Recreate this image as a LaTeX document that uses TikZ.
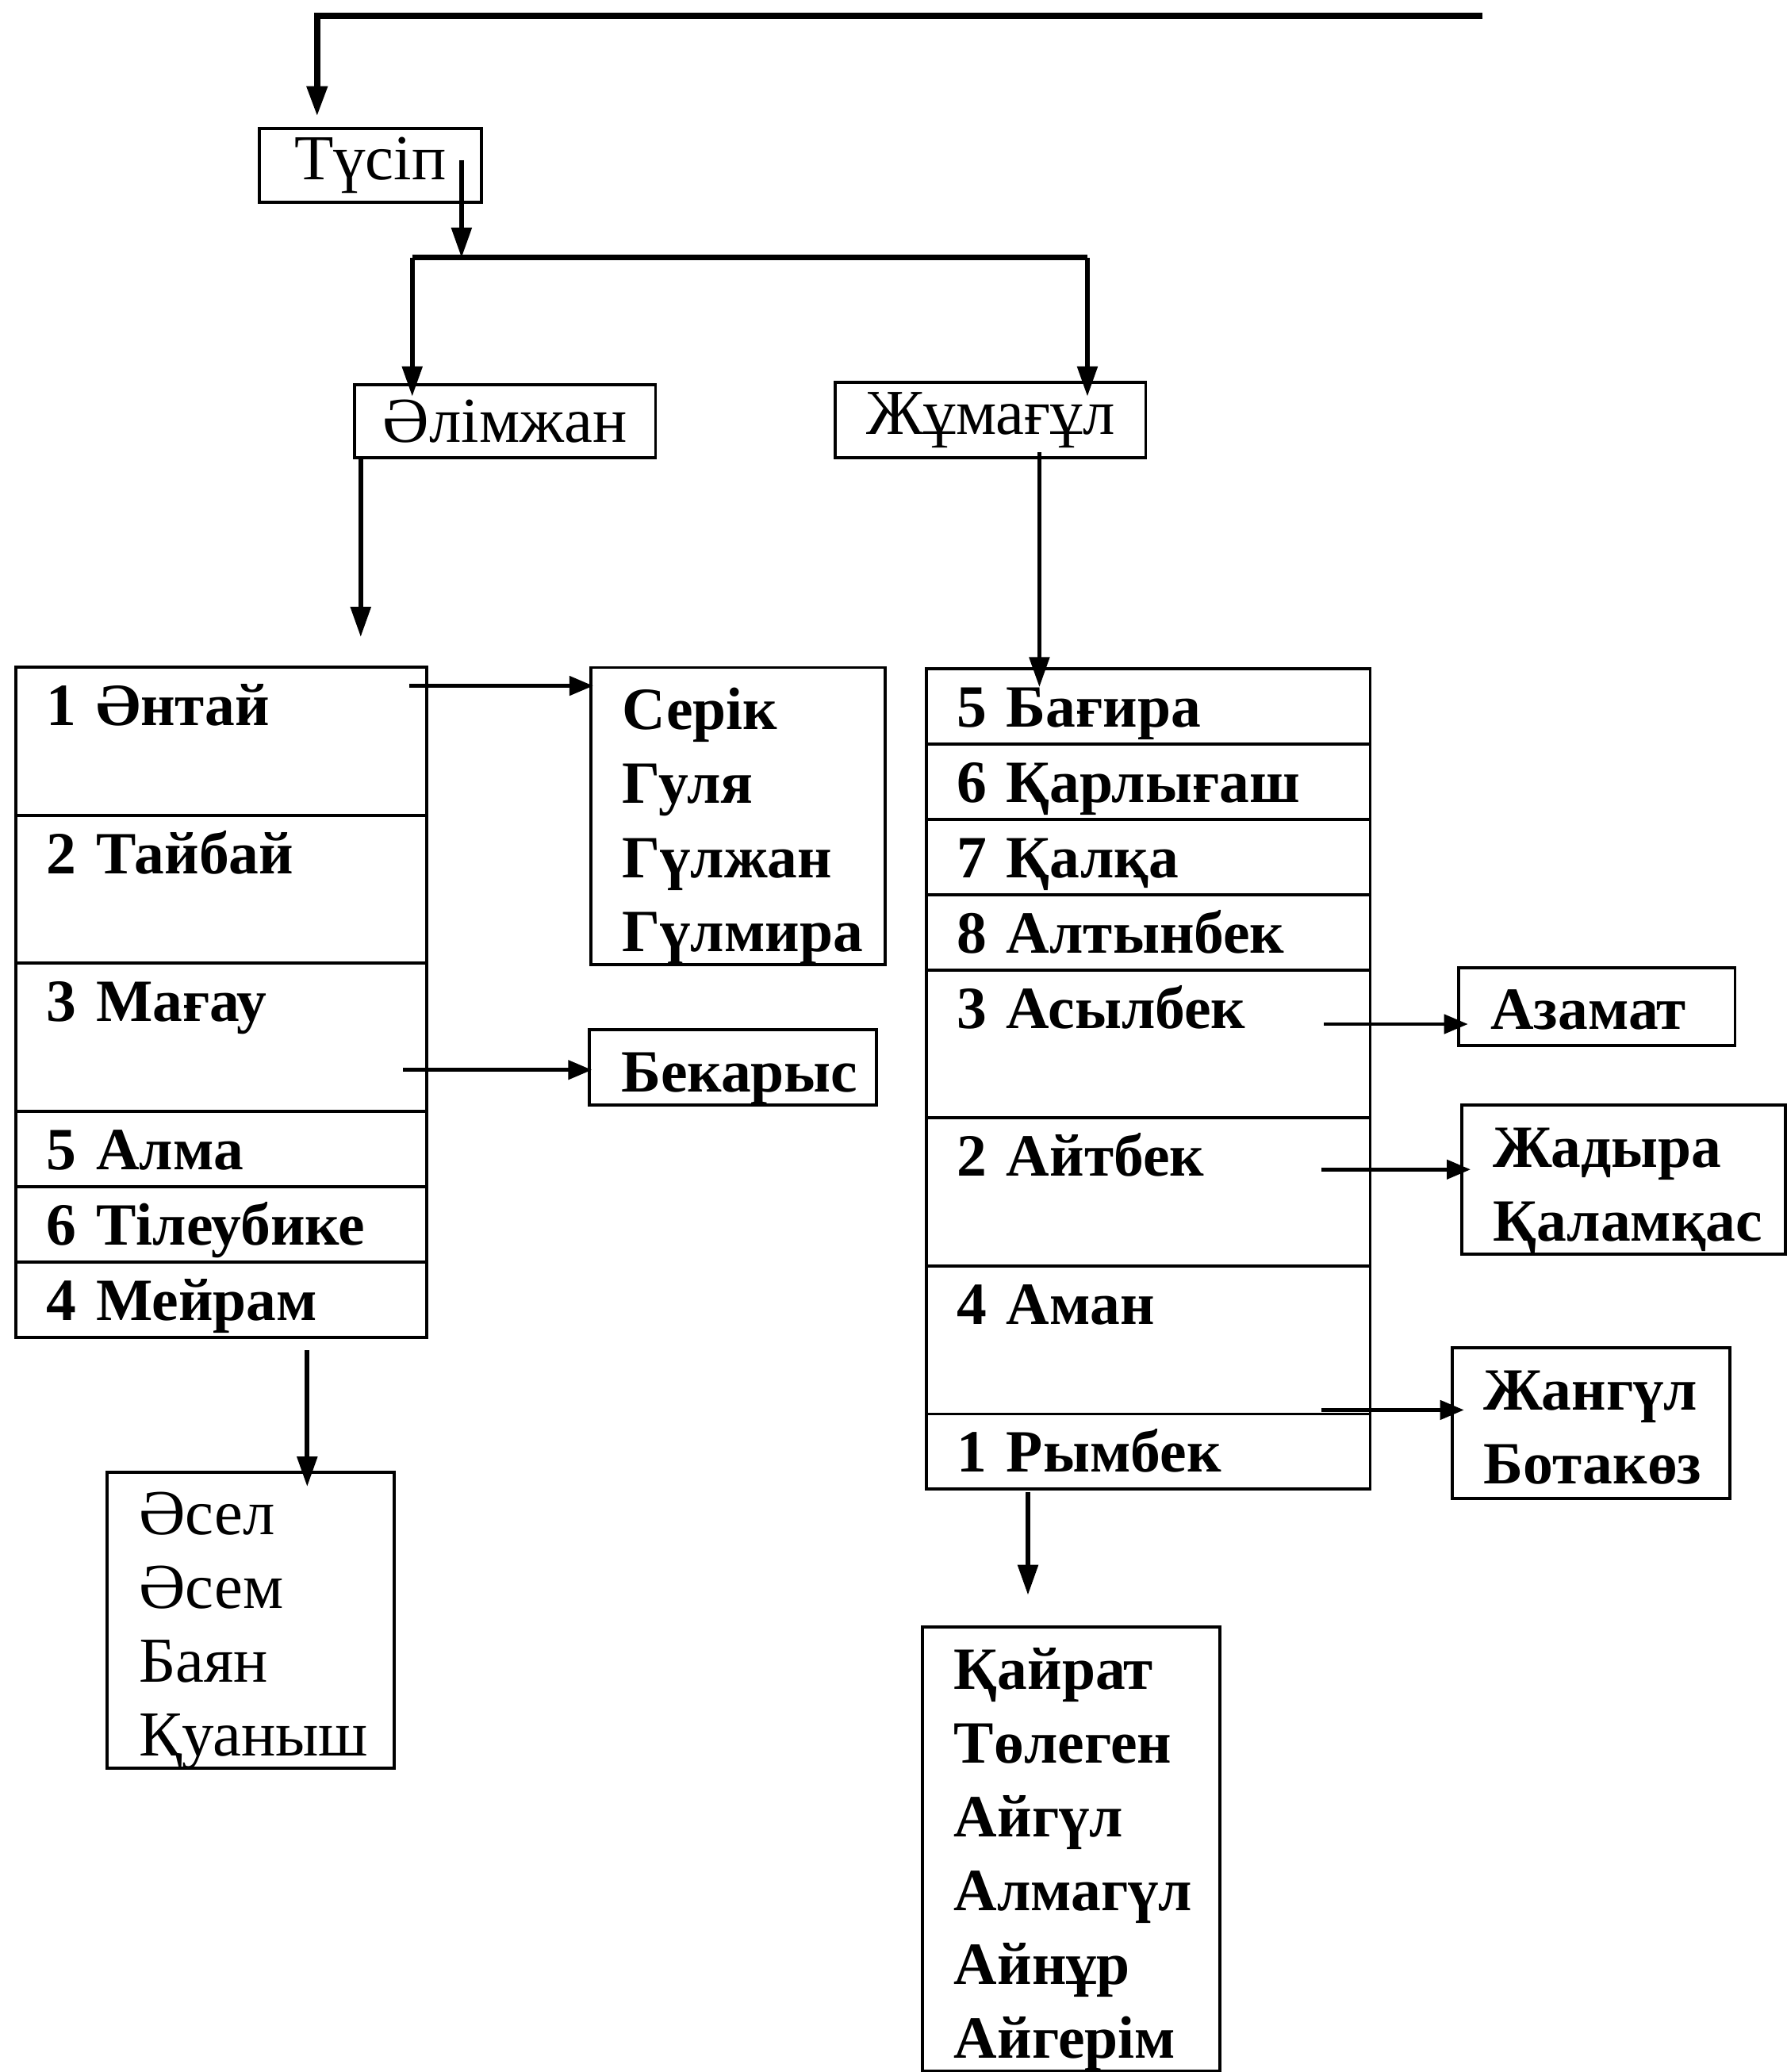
\documentclass[tikz,border=0pt]{standalone}
\usepackage{fontspec}
\setmainfont{Liberation Serif}
\usetikzlibrary{arrows.meta,positioning,calc}
\newlength\px
\setlength\px{0.016664cm}
\newcommand\rowfont{\fontsize{21.5pt}{26.5pt}\selectfont\bfseries}
\newcommand\namefont{\fontsize{23pt}{26.5pt}\selectfont}
\tikzset{
  boxline/.style={line width=1.1pt},
  namebox/.style={draw, boxline, anchor=north west, inner sep=0pt, font=\namefont},
  famrow/.style={draw, boxline, outer sep=0pt, inner xsep=23\px, inner ysep=0pt,
    text height=44\px, align=left, font=\rowfont},
  leftrow/.style={famrow, text width=265\px},
  rightrow/.style={famrow, text width=290\px},
  lowrow/.style={text depth=13\px},
  highrow/.style={text depth=68\px},
  listbox/.style={draw, boxline, anchor=north west, inner xsep=24\px, inner ysep=0pt,
    text height=47\px, align=left, font=\rowfont},
  conn/.style={line width=1.6pt},
  arr/.style={conn, -{Triangle[length=0.38cm,width=0.25cm]}},
  harr/.style={line width=1.3pt, -{Triangle[length=0.3cm,width=0.24cm]}}
}
\begin{document}
\begin{tikzpicture}[x=0.016664cm, y=-0.016664cm]
  \useasboundingbox (0,0) rectangle (1352,1568);

  % top of the tree
  \node[namebox, minimum width=168\px, minimum height=56\px] (tusip) at (195,96) {Түсіп};
  \node[namebox, minimum width=228\px, minimum height=55\px] (alim) at (267,290) {Әлімжан};
  \node[namebox, minimum width=235\px, minimum height=57\px] (zhum) at (631,288) {Жұмағұл};

  \coordinate (feed) at (1122,12);
  \coordinate (barL) at (312,195);
  \coordinate (barR) at (823,195);
  \draw[arr, line width=2.2pt] (feed) -| ($(tusip.north west)+(45,-8)$);
  \draw[arr] ($(tusip.east)+(-16,-4)$) coordinate (ts) -- (ts |- barL);
  \draw[conn, line width=2pt] (barL) -- (barR);
  \draw[arr] (barL) -- ($(barL |- alim.north)+(0,10)$);
  \draw[arr] (barR) -- ($(barR |- zhum.north)+(0,12)$);

  % left column
  \node[leftrow, highrow, anchor=north west] (a1) at (12,505) {1 Әнтай};
  \node[leftrow, highrow, below=0pt of a1] (a2) {2 Тайбай};
  \node[leftrow, highrow, below=0pt of a2] (a3) {3 Мағау};
  \node[leftrow, lowrow, below=0pt of a3] (a4) {5 Алма};
  \node[leftrow, lowrow, below=0pt of a4] (a5) {6 Тілеубике};
  \node[leftrow, lowrow, below=0pt of a5] (a6) {4 Мейрам};

  \node[listbox, text width=175\px, text depth=178\px] (serik) at (446,504)
    {Серік\\Гуля\\Гүлжан\\Гүлмира};
  \node[listbox, text width=169\px, text depth=10\px] (bekar) at (445,778) {Бекарыс};
  \node[listbox, text width=169\px, text depth=177\px, font=\namefont] (asel) at (80,1113)
    {Әсел\\Әсем\\Баян\\Қуаныш};

  \draw[arr] ($(alim.south west)+(6,0)$) coordinate (l1) -- ($(l1 |- a1.north)+(0,-23)$);
  \draw[harr] ($(a1.north east)+(-13,14)$) coordinate (s1) -- ($(s1 -| serik.west)+(3,0)$);
  \draw[harr] ($(a3.east |- bekar.west)+(-18,2)$) coordinate (s3) -- ($(s3 -| bekar.west)+(3,0)$);
  \draw[arr] ($(a6.south)+(65,10)$) coordinate (m1) -- ($(m1 |- asel.north)+(0,12)$);

  % right column
  \node[rightrow, lowrow, anchor=north west] (b1) at (701,506) {5 Бағира};
  \node[rightrow, lowrow, below=0pt of b1] (b2) {6 Қарлығаш};
  \node[rightrow, lowrow, below=0pt of b2] (b3) {7 Қалқа};
  \node[rightrow, lowrow, below=0pt of b3] (b4) {8 Алтынбек};
  \node[rightrow, highrow, below=0pt of b4] (b5) {3 Асылбек};
  \node[rightrow, highrow, below=0pt of b5] (b6) {2 Айтбек};
  \node[rightrow, highrow, below=0pt of b6] (b7) {4 Аман};
  \node[rightrow, lowrow, below=0pt of b7] (b8) {1 Рымбек};

  \node[listbox, text width=161\px, text depth=12\px] (azamat) at (1103,731) {Азамат};
  \node[listbox, text width=197\px, text depth=66\px] (zhadyra) at (1105,835) {Жадыра\\Қаламқас};
  \node[listbox, text width=162\px, text depth=67\px] (zhangul) at (1098,1019) {Жангүл\\Ботакөз};
  \node[listbox, text width=177\px, text depth=289\px] (kairat) at (697,1230)
    {Қайрат\\Төлеген\\Айгүл\\Алмагүл\\Айнұр\\Айгерім};

  \draw[arr] ($(zhum.south)+(37,-5)$) coordinate (j1) -- ($(j1 |- b1.north)+(0,14)$);
  \draw[harr] ($(b5.north east)+(-35,41)$) coordinate (q5) -- ($(q5 -| azamat.west)+(8,0)$);
  \draw[harr] ($(b6.north east)+(-37,39)$) coordinate (q6) -- ($(q6 -| zhadyra.west)+(8,0)$);
  \draw[harr] ($(b7.south east)+(-37,-3)$) coordinate (q7) -- ($(q7 -| zhangul.west)+(10,0)$);
  \draw[arr] ($(b8.south)+(-91,2)$) coordinate (r1) -- ($(r1 |- kairat.north)+(0,-23)$);
\end{tikzpicture}
\end{document}
